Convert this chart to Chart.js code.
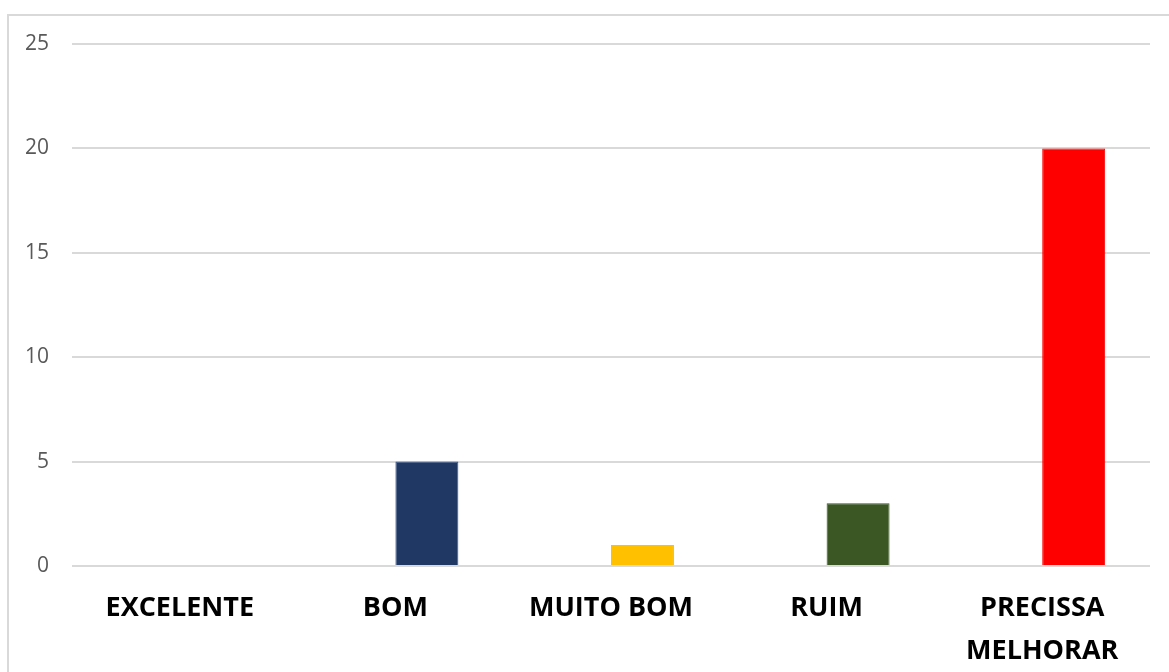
<!DOCTYPE html>
<html>
<head>
<meta charset="utf-8">
<title>Avaliação</title>
<script src="https://cdn.jsdelivr.net/npm/chart.js@4/dist/chart.umd.min.js"></script>
<style>
  html, body { margin: 0; padding: 0; background: #fff; overflow: hidden; }
  #wrap { position: relative; width: 1169px; height: 672px; }
  #frame {
    position: absolute; left: 7px; top: 14px; width: 1300px; height: 800px;
    border: 2px solid #d9d9d9; pointer-events: none;
  }
</style>
</head>
<body>
<div id="wrap">
  <canvas id="avaliacaoChart"></canvas>
  <div id="frame"></div>
</div>
<script>
// categorias e contagens
const categories = ["EXCELENTE", "BOM", "MUITO BOM", "RUIM", ["PRECISSA", "MELHORAR"]];
const counts = [0, 5, 1, 3, 20];
const blank = [null, null, null, null, null]; // série vazia (ocupa o primeiro lugar do grupo)
const barColors = ["#4472c4", "#203864", "#ffc000", "#3a5724", "#ff0000"];
const barBorders = ["#4472c4", "#2f528f", "#ffc000", "#3a5724", "#ff0000"];
const yTicks = [0, 5, 10, 15, 20, 25];

const ctx = document.getElementById("avaliacaoChart");

new Chart(ctx, {
  type: "bar",
  data: {
    labels: categories,
    datasets: [
      { label: "", data: blank },
      {
        label: "Total",
        data: counts,
        backgroundColor: barColors,
        borderColor: barBorders,
        borderWidth: 1,
        borderSkipped: "start"
      }
    ]
  },
  options: {
    responsive: true,
    maintainAspectRatio: false,
    animation: false,
    layout: { padding: { left: 26, right: 19, top: 44, bottom: 0 } },
    plugins: { legend: { display: false }, tooltip: { enabled: false } },
    datasets: { bar: { categoryPercentage: 0.584, barPercentage: 1 } },
    scales: {
      x: {
        afterFit: (axis) => { axis.height = 106; },
        grid: { display: false, drawTicks: false },
        border: { display: false },
        ticks: {
          autoSkip: false,
          maxRotation: 0,
          padding: 21,
          color: "#000",
          font: { family: "Open Sans", size: 27, weight: "bold", lineHeight: 1.6 }
        }
      },
      y: {
        min: yTicks[0],
        max: yTicks[yTicks.length - 1],
        afterBuildTicks: (axis) => { axis.ticks = yTicks.map(v => ({ value: v })); },
        afterFit: (axis) => { axis.width = 46; },
        grid: { color: "#d9d9d9", lineWidth: 2, drawTicks: false },
        border: { display: false },
        ticks: {
          padding: 23,
          color: "#595959",
          font: { family: "Open Sans", size: 21 }
        }
      }
    }
  }
});
</script>
</body>
</html>
